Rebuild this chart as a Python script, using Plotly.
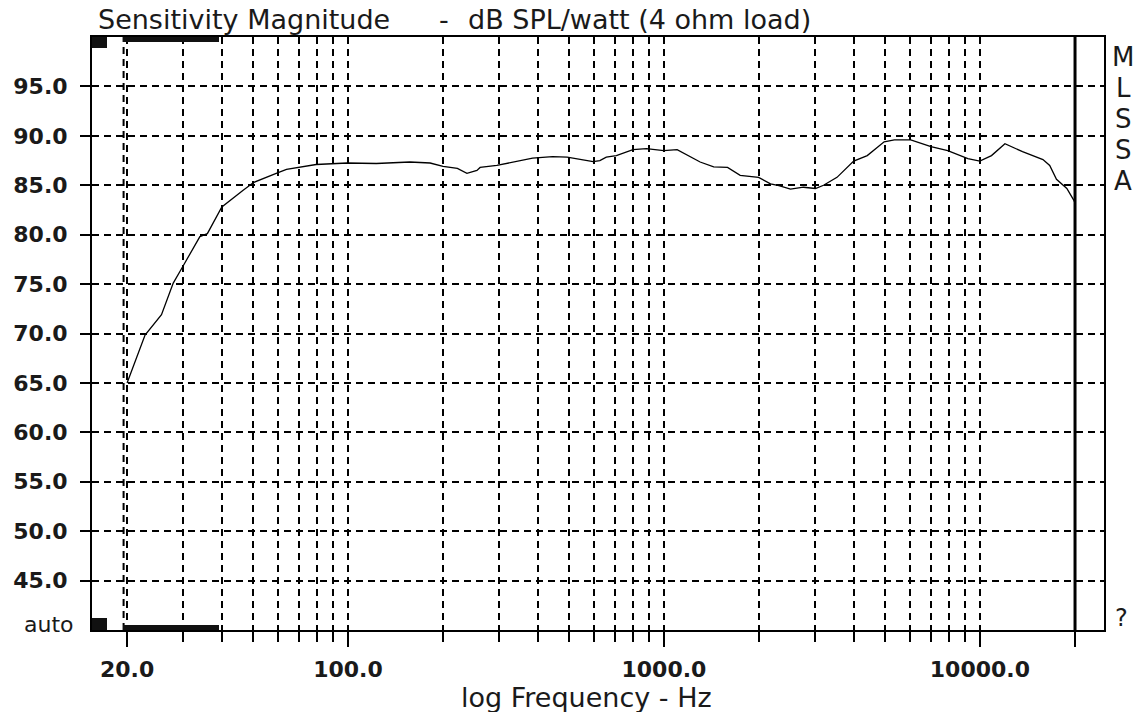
import math
import plotly.graph_objects as go

# ---------------- data ----------------
freq_hz = [20, 22.8, 25.7, 28.0, 29.8, 34.0, 35.9, 39.9, 46.6, 50.4, 59.3, 63.9,
           79.3, 99.5, 123, 157, 182, 200, 222, 238, 256, 262, 296, 333, 384,
           444, 494, 597, 627, 657, 707, 798, 880, 998, 1101, 1302, 1437, 1590,
           1743, 1993, 2174, 2311, 2515, 2766, 3016, 3200, 3530, 3986, 4400,
           4977, 5361, 6040, 7000, 7910, 9160, 9990, 10880, 12000, 13640,
           15830, 16630, 17470, 18840, 19810, 20000]
spl_db = [65.0, 69.85, 71.9, 75.1, 76.6, 79.8, 80.1, 82.8, 84.5, 85.3, 86.2, 86.6,
          87.1, 87.25, 87.2, 87.35, 87.25, 86.9, 86.7, 86.2, 86.5, 86.8, 87.0, 87.35, 87.75,
          87.9, 87.85, 87.4, 87.5, 87.85, 88.0, 88.6, 88.7, 88.5, 88.6, 87.35, 86.85, 86.8,
          86.0, 85.8, 85.15, 84.95, 84.6, 84.8, 84.67, 85.0, 85.8, 87.45, 88.0,
          89.4, 89.6, 89.6, 88.9, 88.5, 87.7, 87.45, 88.0, 89.2, 88.4,
          87.6, 87.0, 85.6, 84.67, 83.5, 83.2]

y_tick_vals = [45, 50, 55, 60, 65, 70, 75, 80, 85, 90, 95]
y_tick_text = ["45.0", "50.0", "55.0", "60.0", "65.0", "70.0", "75.0", "80.0",
               "85.0", "90.0", "95.0"]
x_major_vals = [20, 100, 1000, 10000, 20000]
x_major_text = ["20.0", "100.0", "1000.0", "10000.0", ""]
x_minor_vals = [30, 40, 50, 60, 70, 80, 90,
                200, 300, 400, 500, 600, 700, 800, 900,
                2000, 3000, 4000, 5000, 6000, 7000, 8000, 9000]
extra_grid_hz = [19.5]
limit_hz = 20000
y_range = [40, 100]
x_range_hz = [15.49, 24700]

title_left = "Sensitivity Magnitude"
title_dash = "-"
title_right = "dB SPL/watt (4 ohm load)"
x_title = "log Frequency - Hz"
side_letters = ["M", "L", "S", "S", "A"]

# ---------------- figure ----------------
W, H = 1138, 712
L, R, T, B = 92, 34, 37, 82
PW, PH = W - L - R, H - T - B

def px(xp):
    return (xp - L) / PW

def py(yp):
    return (H - B - yp) / PH

FONT = "DejaVu Sans"
GRID_DASH = "7px,5px"

fig = go.Figure()

for g in extra_grid_hz:
    fig.add_trace(go.Scatter(x=[g, g], y=y_range, mode="lines",
                             line=dict(color="black", width=2, dash=GRID_DASH),
                             hoverinfo="skip", showlegend=False))

fig.add_trace(go.Scatter(x=[limit_hz, limit_hz], y=y_range, mode="lines",
                         line=dict(color="black", width=3),
                         hoverinfo="skip", showlegend=False))

fig.add_trace(go.Scatter(x=freq_hz, y=spl_db, mode="lines",
                         line=dict(color="black", width=1.3),
                         showlegend=False))

fig.update_layout(
    width=W, height=H,
    margin=dict(l=L, r=R, t=T, b=B),
    paper_bgcolor="white", plot_bgcolor="white",
    showlegend=False,
    xaxis=dict(
        type="log",
        range=[math.log10(x_range_hz[0]), math.log10(x_range_hz[1])],
        tickmode="array", tickvals=x_major_vals, ticktext=x_major_text,
        ticks="outside", ticklen=15, tickwidth=2, tickcolor="black",
        tickfont=dict(family=FONT, size=22, color="#1a1a1a", weight="bold"),
        ticklabelstandoff=4,
        showgrid=True, gridcolor="black", gridwidth=2, griddash=GRID_DASH,
        minor=dict(tickvals=x_minor_vals, ticks="outside", ticklen=10,
                   tickwidth=2, tickcolor="black", showgrid=True,
                   gridcolor="black", gridwidth=2, griddash=GRID_DASH),
        showline=True, linecolor="black", linewidth=2, mirror=True,
        zeroline=False,
    ),
    yaxis=dict(
        range=y_range,
        tickmode="array", tickvals=y_tick_vals, ticktext=y_tick_text,
        ticks="outside", ticklen=10, tickwidth=2, tickcolor="black",
        tickfont=dict(family=FONT, size=22, color="#1a1a1a", weight="bold"),
        ticklabelstandoff=8,
        showgrid=True, gridcolor="black", gridwidth=2, griddash=GRID_DASH,
        showline=True, linecolor="black", linewidth=2, mirror=True,
        zeroline=False,
    ),
)

# black range indicator bars
bar_shapes = [
    (92, 107, 37, 48),
    (123, 219, 37, 42),
    (92, 107, 618, 630),
    (123, 219, 625, 630),
]
for x0, x1, y0, y1 in bar_shapes:
    fig.add_shape(type="rect", xref="paper", yref="paper",
                  x0=px(x0), x1=px(x1), y0=py(y1), y1=py(y0),
                  fillcolor="#111111", line=dict(width=0))

txt = dict(family=FONT, color="#1a1a1a")

fig.add_annotation(text=title_left, xref="paper", yref="paper",
                   x=px(96), y=1, xanchor="left", yanchor="bottom",
                   showarrow=False, font=dict(size=27, **txt))
fig.add_annotation(text=title_dash, xref="paper", yref="paper",
                   x=px(444), y=1, xanchor="center", yanchor="bottom",
                   showarrow=False, font=dict(size=27, **txt))
fig.add_annotation(text=title_right, xref="paper", yref="paper",
                   x=px(466), y=1, xanchor="left", yanchor="bottom",
                   showarrow=False, font=dict(size=27, **txt))

fig.add_annotation(text=x_title, xref="paper", yref="paper",
                   x=px(586), y=py(697), xanchor="center", yanchor="middle",
                   showarrow=False, font=dict(size=27, **txt))

for i, ch in enumerate(side_letters):
    fig.add_annotation(text=ch, xref="paper", yref="paper",
                       x=px(1123), y=py(57 + 31 * i), xanchor="center",
                       yanchor="middle", showarrow=False,
                       font=dict(size=26, **txt))

fig.add_annotation(text="?", xref="paper", yref="paper",
                   x=px(1121), y=py(618), xanchor="center", yanchor="middle",
                   showarrow=False, font=dict(size=24, **txt))

fig.add_annotation(text="auto", xref="paper", yref="paper",
                   x=px(76), y=py(624), xanchor="right", yanchor="middle",
                   showarrow=False, font=dict(size=22, **txt))

fig.write_html(
    "out.html",
    config={"displayModeBar": False},
    post_script="document.body.style.margin='0';document.body.style.overflow='hidden';",
)
